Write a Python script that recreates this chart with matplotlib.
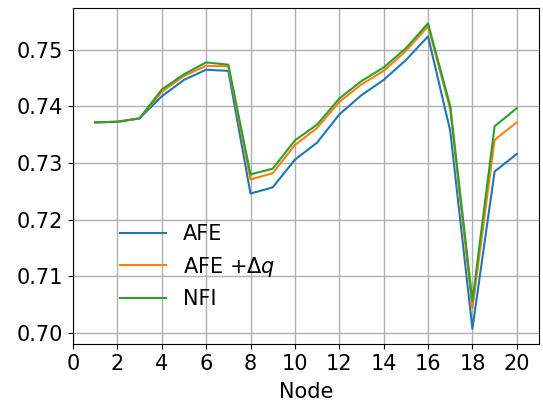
import matplotlib
matplotlib.use("Agg")
import matplotlib.pyplot as plt

nodes = list(range(1, 21))
afe = [0.7372, 0.7373, 0.7379, 0.7418, 0.7447, 0.7465, 0.7463, 0.7246, 0.7257, 0.7306,
       0.7336, 0.7386, 0.7420, 0.7447, 0.7482, 0.7524, 0.7357, 0.7007, 0.7285, 0.7316]
afe_dq = [0.7372, 0.7373, 0.7379, 0.7426, 0.7454, 0.7472, 0.7471, 0.7271, 0.7282, 0.7332,
          0.7362, 0.7408, 0.7439, 0.7463, 0.7498, 0.7542, 0.7395, 0.7043, 0.7341, 0.7372]
nfi = [0.7372, 0.7373, 0.7379, 0.7430, 0.7457, 0.7478, 0.7474, 0.7280, 0.7290, 0.7340,
       0.7368, 0.7414, 0.7445, 0.7469, 0.7503, 0.7547, 0.7401, 0.7056, 0.7365, 0.7397]
labels = ["AFE", r"AFE +$\Delta q$", "NFI"]
xticks = list(range(0, 21, 2))

fig = plt.figure(figsize=(5.43, 4.05), dpi=100)
ax = fig.add_axes([0.1344, 0.1506, 0.8582, 0.8294])

for series, lab in zip([afe, afe_dq, nfi], labels):
    ax.plot(nodes, series, linewidth=1.5, label=lab)

ax.set_xlim(0, 21)
ax.set_xticks(xticks)
ax.grid(True, color="#b0b0b0", linewidth=1.0)
ax.tick_params(labelsize=15)
ax.set_xlabel("Node", fontsize=15, labelpad=6)
ax.legend(fontsize=15, frameon=False, loc="lower left", handlelength=2.2,
          bbox_to_anchor=(0.084, 0.079), borderaxespad=0)

fig.savefig("out.png", dpi=100)
